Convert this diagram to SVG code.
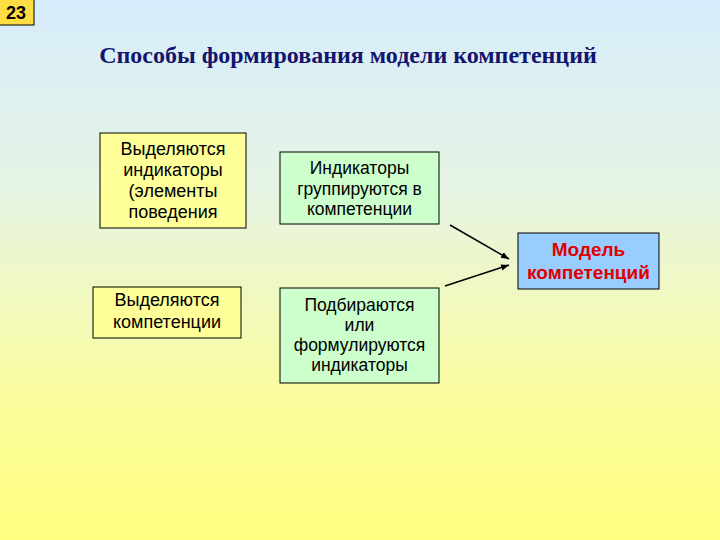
<svg xmlns="http://www.w3.org/2000/svg" width="720" height="540" viewBox="0 0 720 540">
<defs>
<linearGradient id="bg" x1="0" y1="0" x2="0" y2="1">
<stop offset="0" stop-color="#d6ecfb"/>
<stop offset="0.35" stop-color="#e6f4e4"/>
<stop offset="0.75" stop-color="#fbfd9c"/>
<stop offset="1" stop-color="#ffff80"/>
</linearGradient>
<marker id="ah" viewBox="0 0 10 10" refX="10" refY="5" markerWidth="8" markerHeight="8" orient="auto" markerUnits="userSpaceOnUse">
<path d="M0,1 L10,5 L0,9 z" fill="#000"/>
</marker>
<style>
.box{stroke:#000;stroke-width:1}
.y{fill:#ffff99}
.g{fill:#ccffcc}
.b{fill:#99ccff}
.t{font-family:"Liberation Sans",Arial,sans-serif;font-size:17.5px;fill:#000;text-anchor:middle}
.r{font-family:"Liberation Sans",Arial,sans-serif;font-size:19px;font-weight:bold;fill:#e00000;text-anchor:middle}
.c{stroke:#000;stroke-width:1.5;fill:none;marker-end:url(#ah)}
</style>
</defs>
<rect x="0" y="0" width="720" height="540" fill="url(#bg)"/>
<g id="badge">
<rect x="-1" y="-1" width="35" height="26" fill="#ffdd44" stroke="#000" stroke-width="1"/>
<text x="16" y="19" style="font-family:'Liberation Sans',Arial,sans-serif;font-size:18px;font-weight:bold;fill:#000;text-anchor:middle">23</text>
</g>
<g id="title">
<text x="348" y="63" style="font-family:'Liberation Serif','Times New Roman',serif;font-size:24px;font-weight:bold;fill:#14146e;text-anchor:middle">Способы формирования модели компетенций</text>
</g>
<g id="n1">
<rect class="box y" x="100" y="133" width="146" height="95"/>
<text class="t" x="173" y="155" style="font-size:18px">Выделяются</text>
<text class="t" x="173" y="176" style="font-size:18px">индикаторы</text>
<text class="t" x="173" y="197" style="font-size:18px">(элементы</text>
<text class="t" x="173" y="218" style="font-size:18px">поведения</text>
</g>
<g id="n2">
<rect class="box g" x="280" y="152" width="159" height="72"/>
<text class="t" x="359.5" y="174">Индикаторы</text>
<text class="t" x="359.5" y="195">группируются в</text>
<text class="t" x="359.5" y="215">компетенции</text>
</g>
<g id="n3">
<rect class="box y" x="93" y="287" width="148" height="51"/>
<text class="t" x="167" y="306" style="font-size:18px">Выделяются</text>
<text class="t" x="167" y="328" style="font-size:18px">компетенции</text>
</g>
<g id="n4">
<rect class="box g" x="280" y="288" width="159" height="95"/>
<text class="t" x="359.5" y="311">Подбираются</text>
<text class="t" x="359.5" y="331">или</text>
<text class="t" x="359.5" y="351">формулируются</text>
<text class="t" x="359.5" y="371">индикаторы</text>
</g>
<g id="n5">
<rect class="box b" x="518" y="233" width="141" height="56"/>
<text class="r" x="588.5" y="256">Модель</text>
<text class="r" x="588.5" y="279">компетенций</text>
</g>
<g id="connectors">
<line class="c" x1="450" y1="225" x2="509" y2="259"/>
<line class="c" x1="445" y1="286" x2="509" y2="265"/>
</g>
</svg>
